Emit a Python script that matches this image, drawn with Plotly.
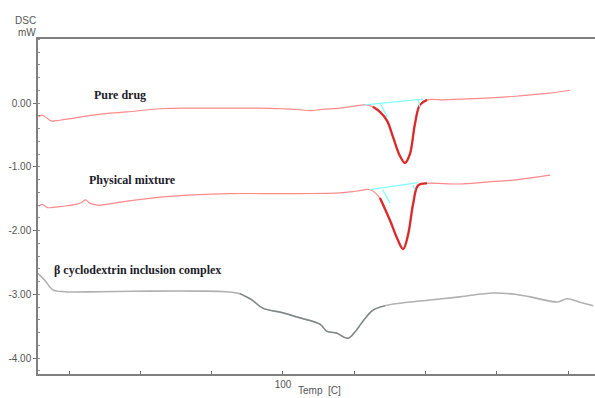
import numpy as np
import plotly.graph_objects as go

# DSC heat-flow curves (temperature in C, heat flow in mW)
pure_T = [31.5, 32.3, 33.2, 35.0, 37.4, 41.0, 46.7, 51.5, 56.2, 65.5, 74.8, 84.3, 93.5,
          100.0, 104.0, 107.6, 111.0, 116.0, 120.0, 123.0, 125.2, 127.2, 129.2, 130.9,
          132.8, 134.2, 135.6, 137.0, 138.4, 140.4, 145.0, 149.6, 158.0, 166.0, 174.0, 180.5]
pure_mW = [-0.22, -0.19, -0.21, -0.28, -0.27, -0.24, -0.19, -0.16, -0.14, -0.09, -0.08, -0.08, -0.08,
           -0.09, -0.10, -0.12, -0.10, -0.08, -0.05, -0.03, -0.06, -0.14, -0.28, -0.54,
           -0.83, -0.94, -0.80, -0.33, -0.03, 0.05, 0.05, 0.06, 0.08, 0.11, 0.15, 0.20]

mix_T = [31.5, 32.5, 34.0, 38.0, 42.0, 43.5, 44.6, 45.8, 48.0, 55.0, 65.0, 75.0, 85.0,
         95.0, 105.0, 116.0, 121.0, 124.4, 127.2, 130.0, 132.0, 133.7, 135.1, 136.5,
         137.9, 140.4, 149.6, 157.0, 164.5, 170.0, 174.9]
mix_mW = [-1.62, -1.59, -1.64, -1.62, -1.59, -1.56, -1.52, -1.57, -1.60, -1.55, -1.48, -1.44, -1.42,
          -1.42, -1.42, -1.41, -1.38, -1.36, -1.49, -1.84, -2.12, -2.29, -2.06, -1.58,
          -1.29, -1.26, -1.27, -1.24, -1.21, -1.17, -1.13]

complex_T = [31.3, 33.2, 35.5, 38.8, 48.7, 62.7, 76.7, 84.0, 87.9, 91.3, 94.4, 99.2, 104.8,
             110.4, 112.3, 115.1, 118.2, 120.2, 122.2, 125.2, 128.6, 132.8, 141.2, 149.6,
             158.9, 165.0, 169.3, 176.9, 179.7, 183.0, 187.0]
complex_mW = [-2.67, -2.78, -2.93, -2.96, -2.96, -2.95, -2.95, -2.96, -2.99, -3.09, -3.22, -3.28, -3.37,
              -3.47, -3.58, -3.61, -3.69, -3.59, -3.44, -3.25, -3.18, -3.14, -3.09, -3.04,
              -2.98, -3.00, -3.04, -3.12, -3.07, -3.12, -3.18]

# Melting-peak analysis ranges and baseline / tangent segments (T, mW pairs)
pure_peak_range = (125.2, 140.4)
mix_peak_range = (127.2, 140.4)
complex_dip_range = (87.0, 130.0)
pure_baselines = [([123.0, 139.3], [-0.03, 0.06]),
                  ([127.2, 129.2], [0.00, -0.22]),
                  ([137.9, 138.4], [0.05, -0.06])]
mix_baselines = [([124.4, 137.9], [-1.36, -1.25]),
                 ([128.0, 130.0], [-1.36, -1.57]),
                 ([136.5, 137.0], [-1.29, -1.36])]

curve_labels = ["Pure drug", "Physical mixture", "\u03b2 cyclodextrin inclusion complex"]
label_T = [46.4, 45.0, 35.2]
label_mW = [0.125, -1.21, -2.62]

x_ticks = [40, 60, 80, 100, 120, 140, 160, 180]
x_ticktext = ["", "", "", "100", "", "", "", ""]
y_ticks = [0, -1, -2, -3, -4]
y_ticktext = ["0.00", "-1.00", "-2.00", "-3.00", "-4.00"]


def segment(T, v, rng):
    T = np.asarray(T)
    v = np.asarray(v)
    m = (T >= rng[0]) & (T <= rng[1])
    return T[m], v[m]


fig = go.Figure()
spline = dict(shape="spline", smoothing=1.0)

# base curves
fig.add_trace(go.Scatter(x=pure_T, y=pure_mW, mode="lines",
                         line=dict(color="#ff8a8a", width=1.2, **spline)))
fig.add_trace(go.Scatter(x=mix_T, y=mix_mW, mode="lines",
                         line=dict(color="#ff8a8a", width=1.2, **spline)))
fig.add_trace(go.Scatter(x=complex_T, y=complex_mW, mode="lines",
                         line=dict(color="#b0b0b0", width=1.6, **spline)))

# highlighted peak regions
for T, v, rng in [(pure_T, pure_mW, pure_peak_range), (mix_T, mix_mW, mix_peak_range)]:
    sx, sy = segment(T, v, rng)
    fig.add_trace(go.Scatter(x=sx, y=sy, mode="lines",
                             line=dict(color="#ff2a2a", width=2.4, **spline)))
    fig.add_trace(go.Scatter(x=sx, y=sy, mode="lines", opacity=0.55,
                             line=dict(color="#4a4a4a", width=0.9, **spline)))
sx, sy = segment(complex_T, complex_mW, complex_dip_range)
fig.add_trace(go.Scatter(x=sx, y=sy, mode="lines",
                         line=dict(color="#7c8585", width=1.2, **spline)))

# baseline and tangent lines
for bx, by in pure_baselines + mix_baselines:
    fig.add_trace(go.Scatter(x=bx, y=by, mode="lines",
                             line=dict(color="#80ffff", width=1.3)))

for text, tx, ty in zip(curve_labels, label_T, label_mW):
    fig.add_annotation(x=tx, y=ty, text="<b>%s</b>" % text, showarrow=False,
                       xanchor="left", yanchor="middle",
                       font=dict(family="Liberation Serif", size=12, color="#1c1c2a"))

axis_font = dict(family="Liberation Sans", size=10, color="#555555")
fig.add_annotation(xref="paper", yref="paper", x=0, y=1.054, text="DSC", showarrow=False,
                   xanchor="right", yanchor="middle", font=axis_font)
fig.add_annotation(xref="paper", yref="paper", x=0, y=1.018, text="mW", showarrow=False,
                   xanchor="right", yanchor="middle", font=axis_font)
fig.add_annotation(xref="paper", yref="paper", x=0.506, y=-0.048, text="Temp  [C]",
                   showarrow=False, xanchor="center", yanchor="middle", font=axis_font)

fig.update_layout(
    width=595, height=398,
    margin=dict(l=38, r=0, t=39, b=24),
    paper_bgcolor="white", plot_bgcolor="white",
    showlegend=False,
    xaxis=dict(range=[31.3, 187.5], tickvals=x_ticks, ticktext=x_ticktext,
               showgrid=False, zeroline=False, showline=True, linecolor="#808080",
               linewidth=1.5, mirror=True, ticks="inside", ticklen=3, tickcolor="#707070",
               tickfont=axis_font, ticklabelstandoff=0),
    yaxis=dict(range=[-4.25, 1.004], tickvals=y_ticks, ticktext=y_ticktext,
               showgrid=False, zeroline=False, showline=True, linecolor="#808080",
               linewidth=1.5, ticks="outside", ticklen=3, tickcolor="#707070",
               tickfont=axis_font, ticklabelstandoff=0,
               minor=dict(dtick=0.2, ticks="inside", ticklen=2, tickcolor="#909090")),
)

fig.write_html("out.html")
